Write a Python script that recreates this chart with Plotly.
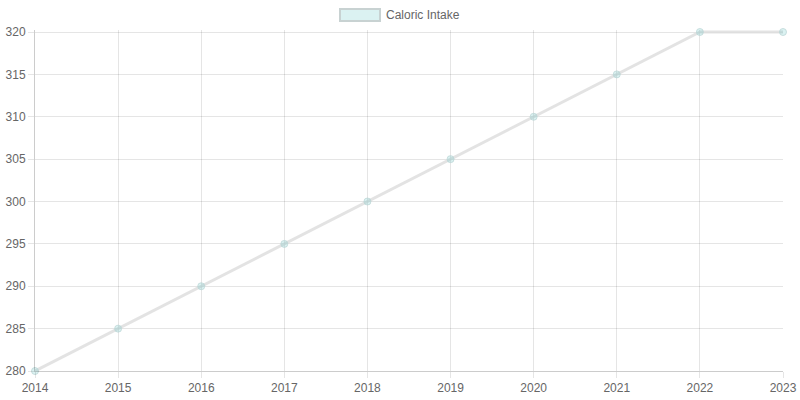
import plotly.graph_objects as go

years = [2014, 2015, 2016, 2017, 2018, 2019, 2020, 2021, 2022, 2023]
calories = [280, 285, 290, 295, 300, 305, 310, 315, 320, 320]
series_name = "Caloric Intake"

grid = "rgba(0,0,0,0.1)"
font_color = "#666666"

fig = go.Figure()
fig.add_trace(go.Scatter(
    x=years, y=calories, name=series_name, mode="lines+markers",
    line=dict(color="rgba(220,220,220,0.8)", width=3),
    marker=dict(size=7, color="rgba(75,192,192,0.2)",
                line=dict(color="rgba(190,215,215,0.8)", width=1)),
    cliponaxis=False,
    showlegend=False,
))

# legend box like chart.js (paper coords, plot area is 748x341 px)
fig.add_shape(type="rect", xref="paper", yref="paper",
              x0=(340 - 35) / 748, x1=(380 - 35) / 748,
              y0=(371 - 21) / 341, y1=(371 - 9) / 341,
              fillcolor="rgba(75,192,192,0.2)",
              line=dict(color="rgba(200,210,210,1)", width=2))
fig.add_annotation(xref="paper", yref="paper", x=(384 - 35) / 748, y=(371 - 15) / 341,
                   text=series_name, showarrow=False, xanchor="left", yanchor="middle",
                   font=dict(size=12, color=font_color))

fig.update_xaxes(range=[2014, 2023], tickvals=years, ticktext=[str(y) for y in years],
                 showgrid=True, gridcolor=grid, gridwidth=1,
                 ticks="outside", ticklen=6, tickcolor=grid, automargin=False,
                 showline=True, linecolor="rgba(0,0,0,0.2)", zeroline=False)
# small headroom so the flat top segment is not clipped
fig.update_yaxes(range=[280, 320.236], tickvals=[280, 285, 290, 295, 300, 305, 310, 315, 320],
                 showgrid=True, gridcolor=grid, gridwidth=1,
                 ticks="outside", ticklen=6, tickcolor=grid, automargin=False,
                 showline=True, linecolor="rgba(0,0,0,0.2)", zeroline=False)

fig.update_layout(
    width=800, height=400,
    margin=dict(l=35, r=17, t=30, b=29),
    paper_bgcolor="white", plot_bgcolor="white",
    font=dict(family="Liberation Sans, Arial, sans-serif", size=12, color=font_color),
)

fig.write_html("out.html", config={"displayModeBar": False},
               post_script="document.body.style.margin='0';")
